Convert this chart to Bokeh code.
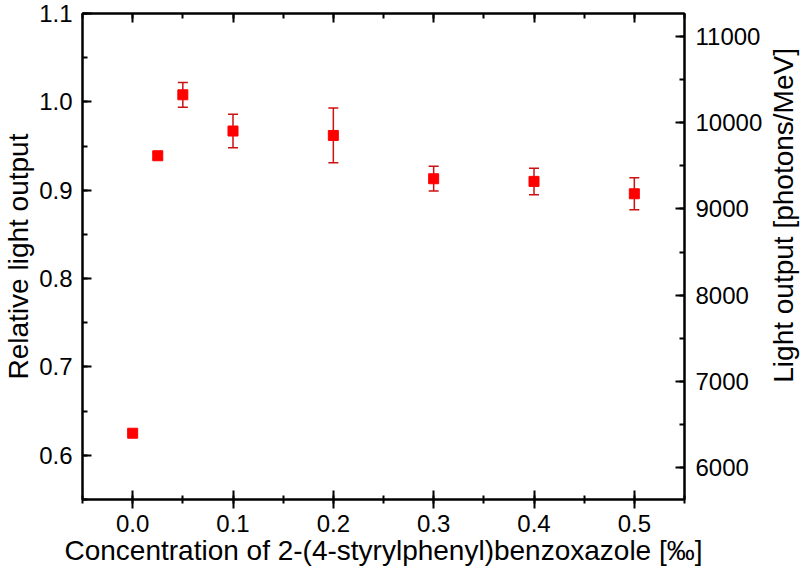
import math
from bokeh.plotting import figure
from bokeh.layouts import row
from bokeh.core.properties import value
from bokeh.models import (ColumnDataSource, LinearAxis, Range1d, SingleIntervalTicker,
                          Whisker, TeeHead, PrintfTickFormatter, CustomJSTickFormatter)
from bokeh.embed import file_html
from bokeh.resources import INLINE

# Data (relative light output vs concentration)
concentration = [0.0, 0.025, 0.05, 0.1, 0.2, 0.3, 0.4, 0.5]
relative_output = [0.625, 0.939, 1.008, 0.967, 0.962, 0.913, 0.910, 0.896]
errors = [0.0, 0.004, 0.014, 0.019, 0.031, 0.014, 0.015, 0.018]
abs_scale = 10240  # photons/MeV corresponding to relative output 1.0

FONT = "Liberation Sans"
TICK_FS = "24px"
LABEL_FS = "28px"

x_lo, x_hi = -0.05, 0.55
y_lo, y_hi = 0.55, 1.1
p = figure(width=766, height=573, x_range=Range1d(x_lo, x_hi), y_range=Range1d(y_lo, y_hi),
           output_backend="svg", toolbar_location=None,
           min_border_left=79, min_border_right=82, min_border_top=13, min_border_bottom=74)
p.extra_y_ranges = {"abs": Range1d(y_lo * abs_scale, y_hi * abs_scale)}
p.xgrid.visible = False
p.ygrid.visible = False
p.outline_line_color = "black"
p.outline_line_width = 2
p.background_fill_color = "white"
p.border_fill_color = "white"

xt = SingleIntervalTicker(interval=0.1, num_minor_ticks=2)
yt = SingleIntervalTicker(interval=0.1, num_minor_ticks=2)
rt = SingleIntervalTicker(interval=1000, num_minor_ticks=2)

def style(ax, tin, tout, min_in, min_out):
    ax.axis_line_width = 2
    ax.major_tick_line_width = 2
    ax.minor_tick_line_width = 2
    ax.major_tick_in = tin
    ax.major_tick_out = tout
    ax.minor_tick_in = min_in
    ax.minor_tick_out = min_out
    ax.major_label_text_font = FONT
    ax.major_label_text_font_size = TICK_FS
    ax.major_label_text_color = "black"
    ax.axis_label_text_font = FONT
    ax.axis_label_text_font_size = LABEL_FS
    ax.axis_label_text_font_style = "normal"
    ax.axis_label_text_color = "black"

xa = p.xaxis[0]
xa.ticker = xt
xa.formatter = PrintfTickFormatter(format="%.1f")
xa.axis_label = "Concentration of 2-(4-styrylphenyl)benzoxazole [‰]"
style(xa, 9, 9, 4, 4)
xa.major_label_standoff = 6
xa.axis_label_standoff = 0

ya = p.yaxis[0]
ya.ticker = yt
ya.formatter = PrintfTickFormatter(format="%.1f")
ya.axis_label = "Relative light output"
style(ya, 9, 0, 5, 0)
ya.major_label_standoff = 10
ya.axis_label_standoff = 2

top = LinearAxis(ticker=SingleIntervalTicker(interval=0.1, num_minor_ticks=2),
                 formatter=CustomJSTickFormatter(code="return ''"))
style(top, 9, 0, 5, 0)
top.major_label_standoff = 0
p.add_layout(top, "above")

right = LinearAxis(y_range_name="abs", ticker=rt, formatter=PrintfTickFormatter(format="%d"))
style(right, 9, 0, 5, 0)
right.major_label_standoff = 11
p.add_layout(right, "right")

ex = [c for c, e in zip(concentration, errors) if e > 0]
ey = [v for v, e in zip(relative_output, errors) if e > 0]
ee = [e for e in errors if e > 0]
esrc = ColumnDataSource(dict(x=ex, upper=[v + e for v, e in zip(ey, ee)],
                             lower=[v - e for v, e in zip(ey, ee)]))
w = Whisker(source=esrc, base="x", upper="upper", lower="lower", line_color="#cc1111",
            line_width=1.5, level="underlay",
            upper_head=TeeHead(size=10, line_color="#cc1111", line_width=1.5),
            lower_head=TeeHead(size=10, line_color="#cc1111", line_width=1.5))
p.add_layout(w)

src = ColumnDataSource(dict(x=concentration, y=relative_output))
p.scatter("x", "y", source=src, marker="square", size=10, fill_color="#ff0000",
          line_color="#ff0000")

# narrow strip holding the right-hand axis title (reads bottom-to-top)
side = figure(width=34, height=573, x_range=Range1d(0, 1), y_range=Range1d(0, 573),
              output_backend="svg", toolbar_location=None, min_border=0)
side.axis.visible = False
side.grid.visible = False
side.outline_line_color = None
side.background_fill_color = "white"
side.border_fill_color = "white"
side.text(x=[0.5], y=[335], text=["Light output [photons/MeV]"], angle=math.pi / 2,
          text_align="center", text_baseline="middle", text_font=value(FONT),
          text_font_size=value(LABEL_FS), text_color="black")

layout = row(p, side, spacing=0)
open("out.html", "w").write(file_html(layout, INLINE))
